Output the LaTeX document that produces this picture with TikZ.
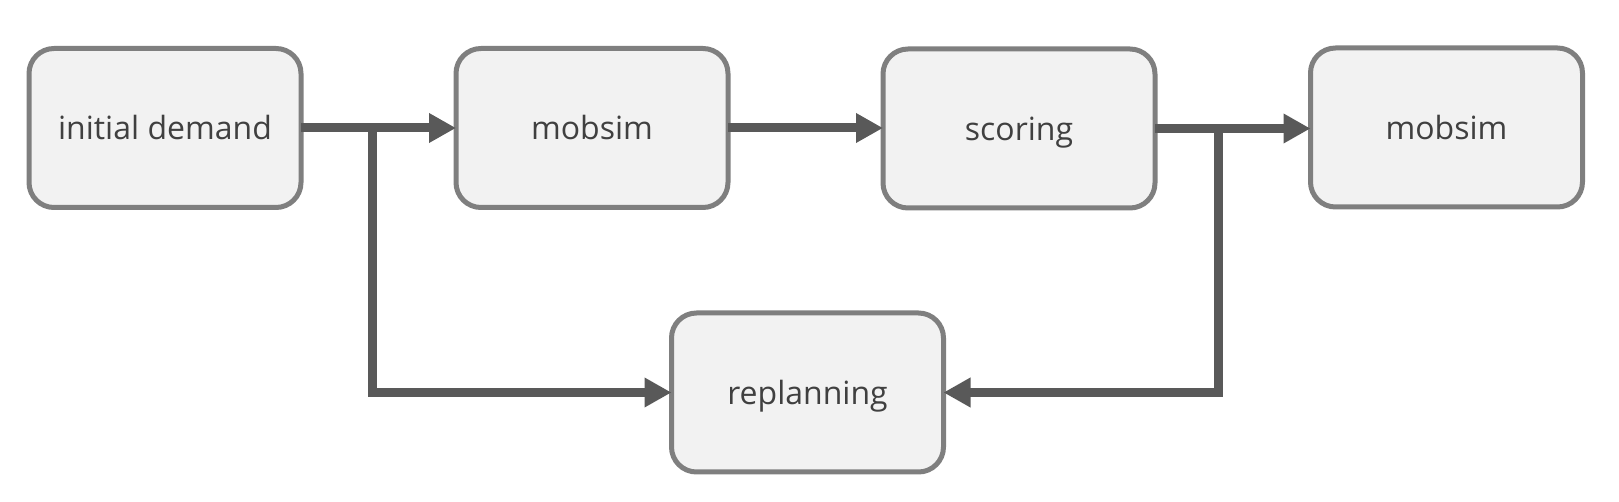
\documentclass[tikz,border=0pt]{standalone}
\usepackage{fontspec}
\setmainfont{Open Sans}
\usetikzlibrary{arrows.meta}
\definecolor{boxfill}{HTML}{F2F2F2}
\definecolor{boxline}{HTML}{7F7F7F}
\definecolor{arrowc}{HTML}{595959}
\definecolor{txt}{HTML}{404040}
\begin{document}
\begin{tikzpicture}[x=0.5pt,y=-0.5pt,
  procbox/.style={draw=boxline, fill=boxfill, line width=2.5pt, rounded corners=12.5pt,
    minimum width=136pt, minimum height=79.5pt, inner sep=0pt, outer sep=0pt,
    text height=15pt, text depth=3pt,
    text=txt, font=\fontsize{16}{19}\selectfont},
  flow/.style={draw=arrowc, line width=4.5pt, -{Triangle[length=13.5pt,width=14pt]}}]
\useasboundingbox (0,0) rectangle (1619,502);
\node[procbox] (init) at (165,128) {initial demand};
\node[procbox] (mob1) at (592,128) {mobsim};
\node[procbox] (score) at (1019,128.5) {scoring};
\node[procbox] (mob2) at (1446.5,127.5) {mobsim};
\node[procbox] (replan) at (807.5,392.5) {replanning};
\coordinate (bl) at (372,128);
\coordinate (br) at (1218,128);
\draw[flow] (init.east) -- (mob1.west);
\draw[flow] (mob1.east) -- (mob1.east -| score.west);
\draw[flow] (score.east) -- (score.east -| mob2.west);
\draw[flow] (bl) |- (replan.west);
\draw[flow] (br) |- (replan.east);
\end{tikzpicture}
\end{document}
